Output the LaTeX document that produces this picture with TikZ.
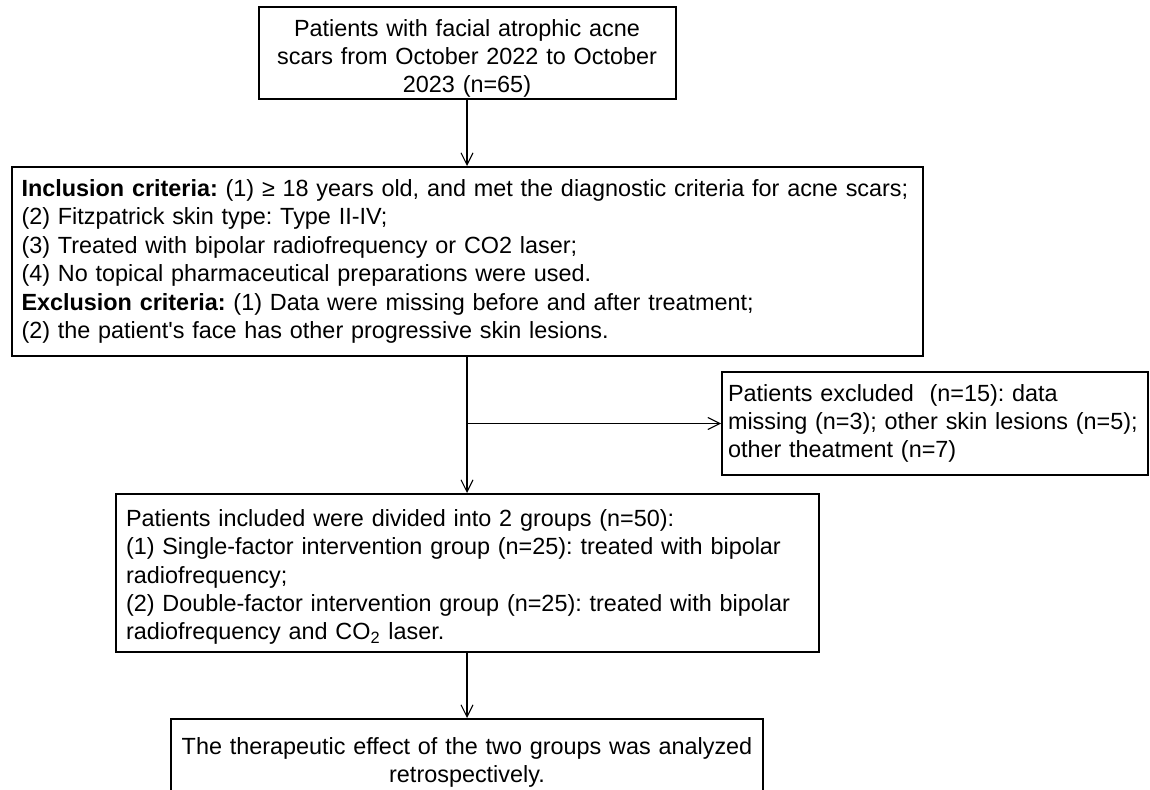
\documentclass[tikz,border=0pt]{standalone}
\usepackage{fontspec}
\setmainfont{Liberation Sans}[Ligatures=TeXOff]
\frenchspacing
\usetikzlibrary{arrows.meta}

\begin{document}
\begin{tikzpicture}[x=0.5pt, y=-0.5pt,
  box/.style={draw, line width=1pt, inner ysep=0pt, font=\fontsize{11.7}{14.2}\selectfont},
  link/.style={-{Straight Barb[length=6pt, width=6pt]}, line width=0.55pt}]
\fill[white] (0,0) rectangle (1150,790);
\useasboundingbox (0,0) rectangle (1150,790);
\node[box, align=center, inner xsep=5pt, text width=198.5pt, minimum height=46pt] (source) at (467,53) {\rule{0pt}{14pt}Patients with facial atrophic acne\\ scars from October 2022 to October\\ 2023 (n=65)};
\node[box, align=left, inner xsep=5pt, text width=445.5pt, minimum height=94.5pt] (criteria) at (467,261.5) {\textbf{Inclusion criteria:} (1) ≥ 18 years old, and met the diagnostic criteria for acne scars;\\ (2) Fitzpatrick skin type: Type II-IV;\\ (3) Treated with bipolar radiofrequency or CO2 laser;\\ (4) No topical pharmaceutical preparations were used.\\ \textbf{Exclusion criteria:} (1) Data were missing before and after treatment;\\ (2) the patient's face has other progressive skin lesions.};
\node[box, align=left, inner xsep=3pt, text width=207pt, minimum height=51.5pt] (excluded) at (935,423.5) {Patients excluded~ (n=15): data\\ missing (n=3); other skin lesions (n=5);\\ other theatment (n=7)};
\node[box, align=left, inner xsep=5pt, text width=341.5pt, minimum height=79pt] (groups) at (467.5,573) {\rule{0pt}{12.5pt}Patients included were divided into 2 groups (n=50):\\ (1) Single-factor intervention group (n=25): treated with bipolar\\ radiofrequency;\\ (2) Double-factor intervention group (n=25): treated with bipolar\\ radiofrequency and CO\textsubscript{2} laser.};
\node[box, align=center, inner xsep=3pt, text width=290pt, minimum height=38pt] (result) at (467,757) {\rule{0pt}{14pt}The therapeutic effect of the two groups was analyzed\\ retrospectively.};
\coordinate (split) at (criteria.south |- excluded.west);
\draw[link] (source.south) -- (criteria.north);
\draw[link] (criteria.south) -- (criteria.south |- groups.north);
\draw[link] (split) -- (excluded.west);
\draw[link] (groups.south -| result.north) -- (result.north);
\end{tikzpicture}
\end{document}
